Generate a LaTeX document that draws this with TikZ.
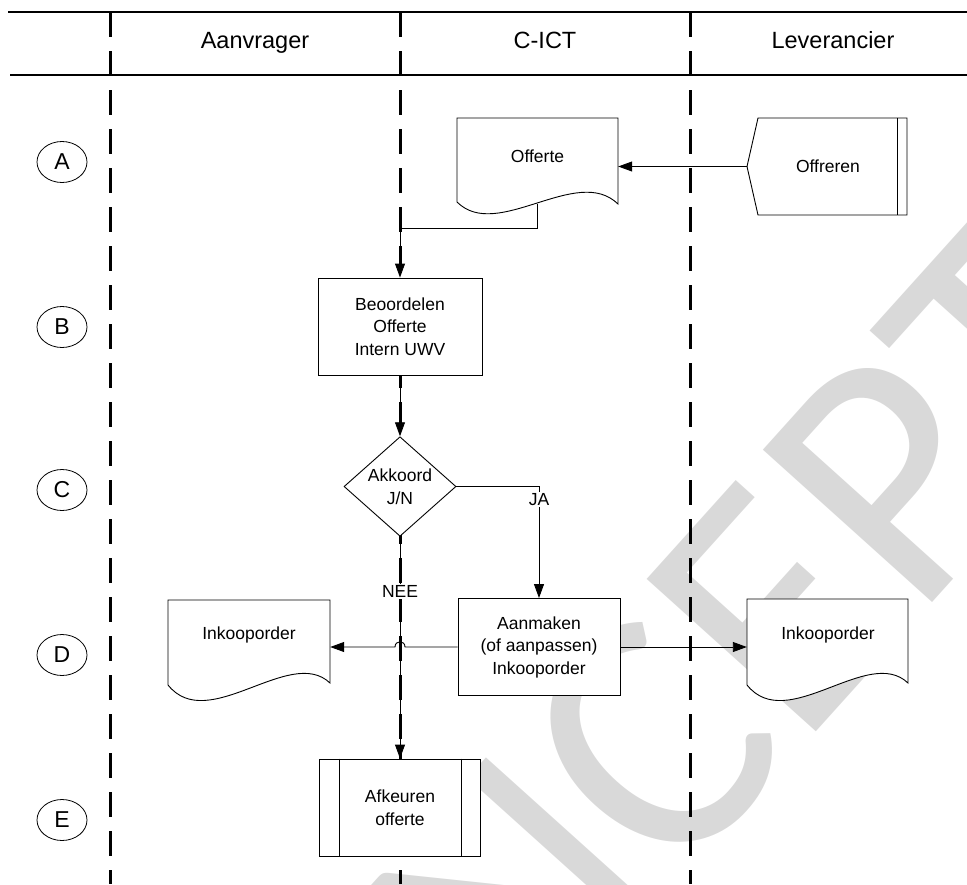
\documentclass[tikz,border=0pt]{standalone}
\usepackage{fontspec}
\setmainfont{Liberation Sans}
\newfontfamily\wmfont{Carlito}
\usetikzlibrary{arrows.meta,shapes.geometric,calc}
\tikzset{
  lane/.style={line width=3pt, dash pattern=on 25pt off 14pt},
  hline/.style={line width=1.8pt},
  hdr/.style={font=\fontsize{23.5}{27}\selectfont, inner sep=0pt, anchor=base},
  txt/.style={font=\fontsize{17.5}{22.5}\selectfont, align=center, inner sep=0pt},
  outl/.style={draw, line width=0.9pt, fill=white},
  procbox/.style={outl, rectangle, minimum width=164pt, minimum height=97pt, inner sep=0pt, txt},
  area/.style={rectangle, inner sep=0pt},
  circ/.style={draw, ellipse, line width=0.8pt, minimum width=50pt, minimum height=41pt, inner sep=0pt, font=\fontsize{23}{26}\selectfont},
  conn/.style={line width=0.9pt, -{Triangle[length=14pt,width=10pt]}},
  flag/.style={fill=white, inner sep=1.5pt, font=\fontsize{17.5}{20}\selectfont},
  wm/.style={text=black!15, font=\wmfont\fontsize{355}{355}\selectfont, inner sep=0pt}
}
\begin{document}
\begin{tikzpicture}[x=1pt,y=-1pt]
\useasboundingbox (0,0) rectangle (967,884);
% watermark
\begin{scope}
\clip (0,0) rectangle (967,884);
\node[wm, rotate=48] (wmark) at (610,790) {CONCEPT};
\end{scope}
% header lines
\draw[hline] (8,12) -- (967,12);
\draw[hline] (10,75) -- (967,75);
% lanes
\draw[lane] (110,12) -- (110,884);
\draw[lane] (400,12) -- (400,884);
\draw[lane] (690,12) -- (690,884);
% headers
\node[hdr] (hAanvrager) at (255,48) {Aanvrager};
\node[hdr] (hCICT) at (545,48) {C-ICT};
\node[hdr] (hLeverancier) at (833,48) {Leverancier};
% row markers
\node[circ] (rowA) at (62,162) {A};
\node[circ] (rowB) at (62,327) {B};
\node[circ] (rowC) at (62,490) {C};
\node[circ] (rowD) at (62,655) {D};
\node[circ] (rowE) at (62,820) {E};
% Offerte document
\node[area, minimum width=161pt, minimum height=86pt] (offerte) at (537.5,161) {};
\draw[outl] (457,118) -- (618,118) -- (618,204) .. controls (577,164) and (497,242) .. (457,202) -- cycle;
\node[txt] (offerteT) at (537.5,156) {Offerte};
% Offreren
\node[area, minimum width=160pt, minimum height=97pt] (offreren) at (827,166.5) {};
\draw[outl] (758,118) -- (907,118) -- (907,215) -- (758,215) -- (747,166.5) -- cycle;
\draw[line width=0.9pt] (897,118) -- (897,215);
\node[txt] (offrerenT) at (828,166) {Offreren};
% Beoordelen
\node[procbox] (beoordelen) at (400,326.5) {Beoordelen\\Offerte\\Intern UWV};
% Akkoord
\node[outl, diamond, minimum width=112pt, minimum height=97pt, inner sep=0pt, txt] (akkoord) at (400,486.5) {Akkoord\\J/N};
% Aanmaken
\node[procbox, minimum width=162pt] (aanmaken) at (539,647) {Aanmaken\\(of aanpassen)\\Inkooporder};
% Inkooporder left
\node[area, minimum width=162pt, minimum height=84pt] (inkL) at (249,642) {};
\draw[outl] (168,600) -- (330,600) -- (330,683) .. controls (290,645) and (208,735) .. (168,685) -- cycle;
\node[txt] (inkLT) at (249,635) {Inkooporder};
% Inkooporder right
\node[area, minimum width=161pt, minimum height=84pt] (inkR) at (827.5,641) {};
\draw[outl] (747,599) -- (908,599) -- (908,683) .. controls (868,645) and (787,735) .. (747,685) -- cycle;
\node[txt] (inkRT) at (828,635) {Inkooporder};
% Afkeuren
\node[procbox, minimum width=161pt] (afkeuren) at (400,807.5) {Afkeuren\\offerte};
\draw[line width=0.9pt] ($(afkeuren.north west)+(20,0)$) -- ($(afkeuren.south west)+(20,0)$);
\draw[line width=0.9pt] ($(afkeuren.north east)+(-20,0)$) -- ($(afkeuren.south east)+(-20,0)$);
% connectors
\draw[conn] (offreren.west) -- (offerte.east |- offreren.west);
\draw[conn] (offerte.south) -- ++(0,24) -| (beoordelen.north);
\draw[conn] (beoordelen.south) -- (akkoord.north);
\draw[conn] (akkoord.east) -| (aanmaken.north) node[flag, pos=0.56] (ja) {JA};
\draw[conn] (akkoord.south) -- (afkeuren.north) node[flag, pos=0.245] (nee) {NEE};
\draw[conn] (aanmaken.west) -- (405,647) .. controls (405,640) and (395,640) .. (395,647) -- (inkL.east |- aanmaken.west);
\draw[conn] (aanmaken.east) -- (inkR.west |- aanmaken.east);
\end{tikzpicture}
\end{document}
